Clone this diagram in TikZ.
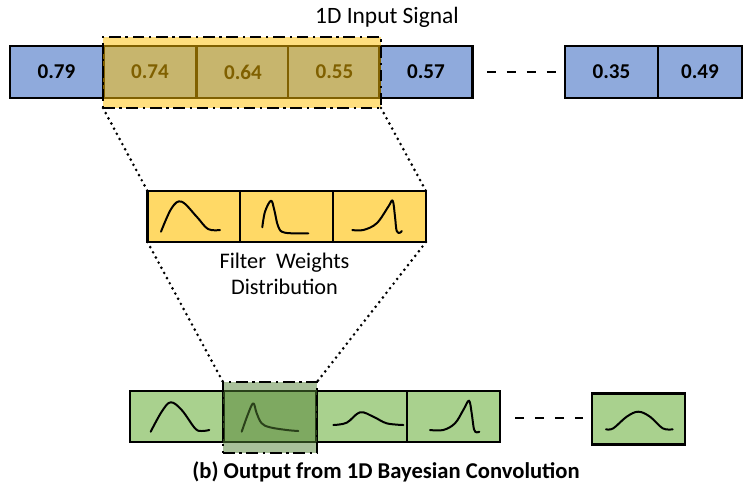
\documentclass[tikz,border=0pt]{standalone}
\usepackage{fontspec}
\setmainfont{Carlito}
\definecolor{cellblue}{HTML}{8FAADC}
\definecolor{cellyellow}{HTML}{FFD966}
\definecolor{cellgreen}{HTML}{A9D18E}
\definecolor{hlyellow}{HTML}{FFC000}
\definecolor{hlgreen}{HTML}{548235}
\tikzset{
  cellbox/.style={draw=black, line width=1.8pt, inner sep=0pt, outer sep=0pt,
    minimum width=2.79cm, minimum height=1.56cm},
  bluecell/.style={cellbox, fill=cellblue, font=\fontsize{18}{20}\selectfont\bfseries},
  yellowcell/.style={cellbox, fill=cellyellow, minimum height=1.53cm},
  greencell/.style={cellbox, fill=cellgreen, minimum height=1.53cm},
  hlbox/.style={draw=black, line width=1.8pt, inner sep=0pt, outer sep=0pt,
    dash pattern=on 10pt off 4pt on 2pt off 4pt},
  dotline/.style={line width=2.5pt, line cap=round, dash pattern=on 0pt off 5pt},
  gapdash/.style={line width=1.8pt, dash pattern=on 8pt off 9pt},
  curve/.style={line width=1.7pt, line cap=round, line join=round},
  lbl/.style={font=\fontsize{19}{22}\selectfont, inner sep=0pt, align=center},
}
\begin{document}
\begin{tikzpicture}[x=0.03cm, y=-0.03cm]
\useasboundingbox (0,0) rectangle (743,493);
% top row
\node[bluecell] (t1) at (56.5,72) {0.79};
\node[bluecell] (t2) at (150,72) {0.74};
\node[bluecell] (t3) at (243,72) {0.64};
\node[bluecell] (t4) at (334.5,72) {0.55};
\node[bluecell] (t5) at (426,72) {0.57};
\node[bluecell] (t6) at (611.5,72) {0.35};
\node[bluecell, minimum width=2.52cm] (t7) at (700,72) {0.49};
\coordinate (ta) at (487,72);
\coordinate (tb) at (557,72);
\draw[gapdash] (ta) -- (tb);
\node[hlbox, fill=hlyellow, fill opacity=0.5, draw opacity=1,
  minimum width=8.34cm, minimum height=2.13cm] (hl) at (242,72.5) {};
\node[lbl, font=\fontsize{20}{22}\selectfont] (title) at (387,17) {1D Input Signal};
% filter row
\node[yellowcell] (f1) at (194,216.5) {};
\node[yellowcell] (f2) at (286.5,216.5) {};
\node[yellowcell] (f3) at (379.5,216.5) {};
\draw[curve] plot[smooth, tension=0.6] coordinates {(161,231.7) (171.7,208) (181.7,201.7) (196.7,216.7) (208,229) (220,230)};
\draw[curve] plot[smooth, tension=0.6] coordinates {(262.3,227.3) (265,211.7) (271,200.7) (274.3,210) (278.3,226.7) (285,232.7) (308.3,233.3)};
\draw[curve] plot[smooth, tension=0.6] coordinates {(352.3,230) (363.3,230) (376.7,223.3) (388.3,206.7) (392.7,200.7) (395,216.7) (396.7,231) (400,232.7) (401.7,231)};
\node[lbl, font=\fontsize{19}{21.7}\selectfont] (ftext) at (284.5,274) {Filter\ \ Weights\\Distribution};
% bottom row
\node[greencell] (b1) at (176.5,416.5) {};
\node[greencell] (b2) at (270,416.5) {};
\node[greencell, minimum width=2.7cm] (b3) at (362,416.5) {};
\node[greencell] (b4) at (453.5,416.5) {};
\node[greencell] (b5) at (638.5,419) {};
\coordinate (ba) at (515,418);
\coordinate (bb) at (583,418);
\draw[gapdash] (ba) -- (bb);
\draw[curve] plot[smooth, tension=0.6] coordinates {(150.7,431.7) (161.7,411.7) (170.7,402.3) (181.7,410) (195,428.3) (201.7,431) (209.3,430)};
\draw[curve] plot[smooth, tension=0.6] coordinates {(241.7,431.7) (248.3,413.3) (253.3,403.3) (256.7,413.3) (261.7,423.3) (270,427.3) (286.7,430) (298.3,431)};
\draw[curve] plot[smooth, tension=0.6] coordinates {(333.3,425) (346.7,422.7) (360,412.3) (373.3,416.7) (386.7,423.3) (403.3,425)};
\draw[curve] plot[smooth, tension=0.6] coordinates {(430,430) (443.3,430) (455,423.3) (463.3,410) (469,400.7) (471.7,413.3) (474,429.3) (476.7,432.3) (479.3,431.7)};
\draw[curve] plot[smooth, tension=0.6] coordinates {(606,429.3) (613.3,428.3) (626.7,416.7) (638.3,411.7) (650,416.7) (662.7,428.3) (672.7,429.3)};
\node[hlbox, fill=hlgreen, fill opacity=0.5, draw opacity=1,
  minimum width=2.82cm, minimum height=2.13cm] (hl2) at (270,417.5) {};
% dotted connectors
\draw[dotline] (hl.south west) -- (f1.north west);
\draw[dotline] (hl.south east) -- (f3.north east);
\draw[dotline] (f1.south west) -- (hl2.north west);
\draw[dotline] (f3.south east) -- (hl2.north east);
% caption
\node[lbl, font=\fontsize{19.3}{22}\selectfont\bfseries] (cap) at (386,472) {(b) Output from 1D Bayesian Convolution};
\end{tikzpicture}
\end{document}
